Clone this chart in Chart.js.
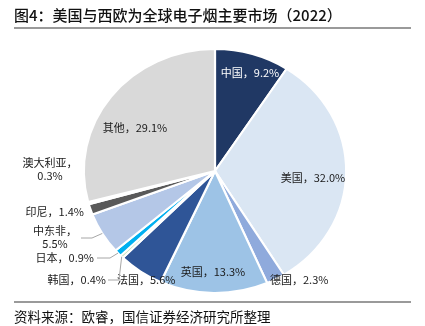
<!DOCTYPE html>
<html>
<head>
<meta charset="utf-8">
<script src="https://cdn.jsdelivr.net/npm/chart.js@4"></script>
<style>
  html, body { margin: 0; padding: 0; background: #fff; }
  .wrap { position: relative; width: 425px; height: 326px; overflow: hidden; font-family: "Noto Sans CJK SC", sans-serif; }
  .title { position: absolute; left: 14px; top: 4px; font-size: 15px; font-weight: 500; color: #111; white-space: nowrap; }
  .rule { position: absolute; left: 14px; width: 397px; height: 2px; background: #9a9a9a; }
  .source { position: absolute; left: 14px; top: 306px; font-size: 13.5px; color: #111; white-space: nowrap; }
  canvas { position: absolute; left: 0; top: 0; }
</style>
</head>
<body>
<div class="wrap">
  <canvas id="pieChart" width="425" height="326"></canvas>
  <div class="title">图4：美国与西欧为全球电子烟主要市场（2022）</div>
  <div class="rule" style="top: 27px;"></div>
  <div class="rule" style="top: 301px;"></div>
  <div class="source">资料来源：欧睿，国信证券经济研究所整理</div>
</div>
<script>
// market share of e-cigarettes, 2022 (%)
const markets = ['中国', '美国', '德国', '英国', '法国', '韩国', '日本', '中东非', '印尼', '澳大利亚', '其他'];
const shares = [9.2, 32.0, 2.3, 13.3, 5.6, 0.4, 0.9, 5.5, 1.4, 0.3, 29.1];
const sliceColors = ['#203864', '#dae6f3', '#8faadc', '#9dc3e6', '#2f5597', '#c5e0b4', '#00b0f0', '#b4c7e7', '#595959', '#f2f2f2', '#d9d9d9'];

// label placement (text anchor) and leader elbows, one per slice
const labelLayout = [
  { x: 250, y: 73, align: 'center', color: '#ffffff' },
  { x: 313, y: 178, align: 'center' },
  { x: 270, y: 280, align: 'left' },
  { x: 213, y: 272, align: 'center' },
  { x: 117, y: 280, align: 'left' },
  { x: 106, y: 280, align: 'right', leader: [[108, 280], [119, 280]] },
  { x: 94, y: 258, align: 'right', leader: [[97, 258], [110, 258]] },
  { x: 55, y: 231, align: 'center', wrap: true, leader: [[81, 238], [92, 238]] },
  { x: 84, y: 212, align: 'right' },
  { x: 50, y: 163, align: 'center', wrap: true },
  { x: 135, y: 128, align: 'center' }
];

const stretchX = 1.075; // reference pie is slightly wider than tall

const stretchPlugin = {
  id: 'stretch',
  beforeDatasetsDraw(chart) {
    const arc = chart.getDatasetMeta(0).data[0];
    const ctx = chart.ctx;
    ctx.save();
    ctx.translate(arc.x, arc.y);
    ctx.scale(stretchX, 1);
    ctx.translate(-arc.x, -arc.y);
  },
  afterDatasetsDraw(chart) {
    chart.ctx.restore();
  }
};

const labelPlugin = {
  id: 'sliceLabels',
  afterDraw(chart) {
    const ctx = chart.ctx;
    const arcs = chart.getDatasetMeta(0).data;
    ctx.save();
    ctx.font = '11px "Noto Sans CJK SC", sans-serif';
    ctx.textBaseline = 'middle';
    arcs.forEach((arc, i) => {
      const lay = labelLayout[i];
      const text = markets[i] + '，' + shares[i].toFixed(1) + '%';
      if (lay.leader) {
        const mid = (arc.startAngle + arc.endAngle) / 2;
        const ex = arc.x + stretchX * arc.outerRadius * Math.cos(mid);
        const ey = arc.y + arc.outerRadius * Math.sin(mid);
        ctx.strokeStyle = '#a6a6a6';
        ctx.lineWidth = 1;
        ctx.beginPath();
        ctx.moveTo(lay.leader[0][0], lay.leader[0][1]);
        lay.leader.slice(1).forEach(p => ctx.lineTo(p[0], p[1]));
        ctx.lineTo(ex, ey);
        ctx.stroke();
      }
      ctx.fillStyle = lay.color || '#1a1a1a';
      ctx.textAlign = lay.align;
      if (lay.wrap) {
        ctx.fillText(markets[i] + '，', lay.x, lay.y);
        ctx.fillText(shares[i].toFixed(1) + '%', lay.x, lay.y + 13);
      } else {
        ctx.fillText(text, lay.x, lay.y);
      }
    });
    ctx.restore();
  }
};

new Chart(document.getElementById('pieChart').getContext('2d'), {
  type: 'pie',
  data: {
    labels: markets,
    datasets: [{
      data: shares,
      backgroundColor: sliceColors,
      borderColor: '#ffffff',
      borderWidth: 2,
      hoverOffset: 0
    }]
  },
  options: {
    responsive: false,
    animation: false,
    events: [],
    radius: 122,
    layout: { padding: { left: 93, right: 88, top: 49, bottom: 33 } },
    plugins: { legend: { display: false }, tooltip: { enabled: false } }
  },
  plugins: [stretchPlugin, labelPlugin]
});
</script>
</body>
</html>
